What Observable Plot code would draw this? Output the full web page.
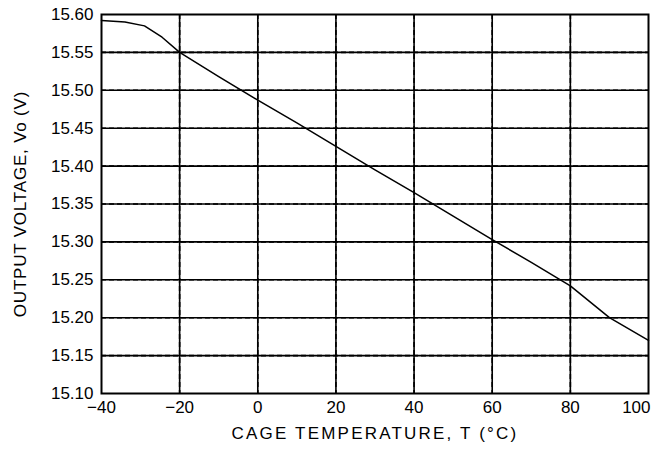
<!DOCTYPE html>
<html>
<head>
<meta charset="utf-8">
<script src="https://cdn.jsdelivr.net/npm/d3@7"></script>
<script src="https://cdn.jsdelivr.net/npm/@observablehq/plot@0.6"></script>
<style>
  html, body { margin: 0; padding: 0; background: #fff; }
  svg { font-family: "Liberation Sans", Arial, sans-serif; }
</style>
</head>
<body>
<div id="chart"></div>
<script>
// Case temperature (°C)
const temperature = [-40, -34, -29, -24.5, -20, -10, 0, 10, 20, 30, 40, 50, 60, 70, 80, 90, 100];
// Output voltage Vo (V)
const voltage = [15.592, 15.590, 15.585, 15.570, 15.550, 15.518, 15.487, 15.457, 15.426, 15.395, 15.365, 15.334, 15.303, 15.273, 15.242, 15.200, 15.170];

const xTicks = [-40, -20, 0, 20, 40, 60, 80];
const xTickLast = [100];
const xGrid = [-20, 0, 20, 40, 60, 80];
const yTicks = [15.10, 15.15, 15.20, 15.25, 15.30, 15.35, 15.40, 15.45, 15.50, 15.55, 15.60];
const yGrid = [15.15, 15.20, 15.25, 15.30, 15.35, 15.40, 15.45, 15.50, 15.55];

const xTitle = "CAGE TEMPERATURE, T (°C)";
const yTitle = "OUTPUT VOLTAGE, Vo (V)";

const data = temperature.map((t, i) => ({t, v: voltage[i]}));

const chart = Plot.plot({
  width: 658,
  height: 470,
  marginLeft: 101,
  marginRight: 10,
  marginTop: 14,
  marginBottom: 77,
  style: {fontSize: "17px", fontFamily: "Liberation Sans, Arial, sans-serif", color: "#000", background: "#fff"},
  x: {domain: [-40, 100]},
  y: {domain: [15.10, 15.60]},
  marks: [
    Plot.ruleX(xGrid, {x: d => d, stroke: "#000", strokeWidth: 1.6, strokeDasharray: "5,3"}),
    Plot.ruleY(yGrid, {y: d => d, stroke: "#000", strokeWidth: 1.6, strokeDasharray: "5,3"}),
    Plot.tickX(xGrid, {x: d => d, y1: 15.10, y2: 15.115, stroke: "#000", strokeWidth: 1.6}),
    Plot.tickY(yGrid, {y: d => d, x1: -40, x2: -39, stroke: "#000", strokeWidth: 1.6}),
    Plot.axisX(xTicks, {tickSize: 0, tickPadding: 7, label: xTitle, labelAnchor: "center", labelArrow: "none", labelOffset: 45, fill: "#000"}),
    Plot.axisX(xTickLast, {tickSize: 0, tickPadding: 7, textAnchor: "end", dx: 2, label: null, fill: "#000"}),
    Plot.axisY(yTicks, {tickSize: 0, tickPadding: 8, tickFormat: d3.format(".2f"), label: yTitle, labelAnchor: "center", labelArrow: "none", labelOffset: 88, fill: "#000"}),
    Plot.line(data, {x: "t", y: "v", stroke: "#000", strokeWidth: 1.5}),
    Plot.frame({stroke: "#000", strokeWidth: 2})
  ]
});
// letter spacing of the axis titles, to match the wide lettering of the reference
d3.select(chart).selectAll("g[aria-label='x-axis label'] text").style("letter-spacing", "2.2px");
d3.select(chart).selectAll("g[aria-label='y-axis label'] text").style("letter-spacing", "0.8px");
document.getElementById("chart").append(chart);
</script>
</body>
</html>
